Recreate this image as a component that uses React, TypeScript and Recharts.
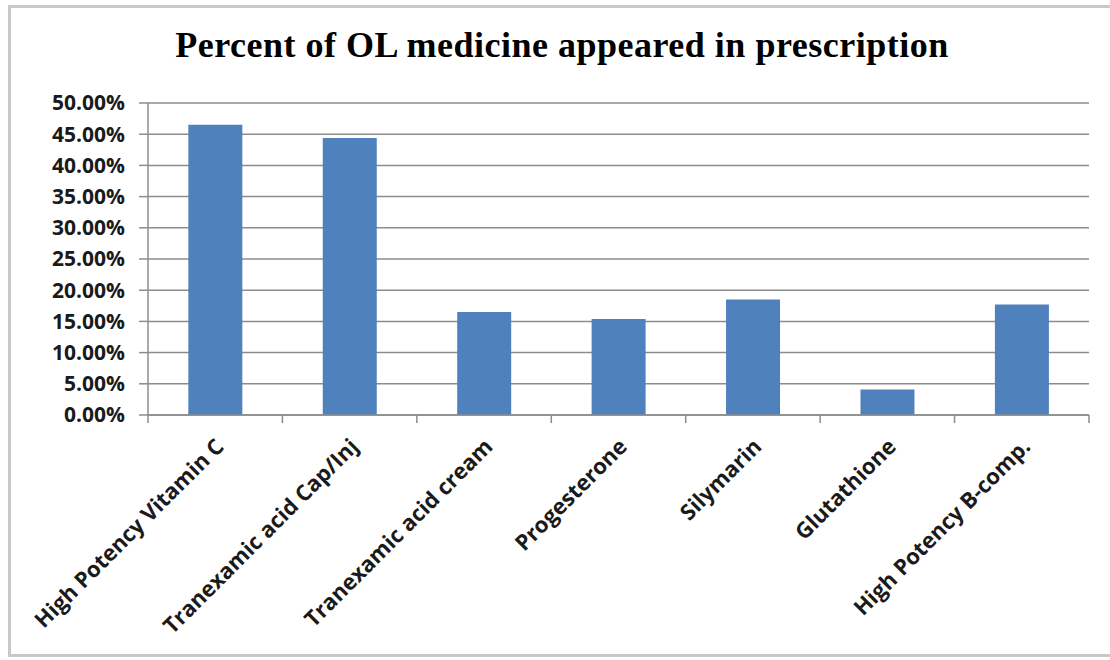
import { Bar, BarChart, CartesianGrid, XAxis, YAxis } from "recharts"

const categories = [
  "High Potency Vitamin C",
  "Tranexamic acid Cap/Inj",
  "Tranexamic acid cream",
  "Progesterone",
  "Silymarin",
  "Glutathione",
  "High Potency B-comp.",
]
const percents = [46.5, 44.4, 16.5, 15.4, 18.5, 4.1, 17.7]
const yTicks = [0, 5, 10, 15, 20, 25, 30, 35, 40, 45, 50]

const chartData = categories.map((name, i) => ({ name, value: percents[i] }))

const LABEL_FONT = "'Open Sans', sans-serif"
const CHART_W = 1110
const Y_AXIS_W = 148
const RIGHT_M = 21
const X_AXIS_H = 245
const AXIS_Y = 660 - X_AXIS_H
const BAND = (CHART_W - Y_AXIS_W - RIGHT_M) / categories.length

// excel puts the x tick marks between categories, not under them
const CategoryTick = ({ x, y, payload, index }: any) => {
  const tx = x + 10
  const ty = y + 25
  const left = x - BAND / 2
  const right = x + BAND / 2
  return (
    <g>
      <line x1={left} x2={left} y1={AXIS_Y} y2={AXIS_Y + 8} stroke="#8c8c8c" strokeWidth={1.5} />
      {index === categories.length - 1 && (
        <line x1={right} x2={right} y1={AXIS_Y} y2={AXIS_Y + 8} stroke="#8c8c8c" strokeWidth={1.5} />
      )}
      <text
        x={tx}
        y={ty}
        textAnchor="end"
        fontFamily={LABEL_FONT}
        fontWeight={700}
        fontSize={22}
        fill="#1a1a1a"
        transform={`rotate(-45 ${tx} ${ty})`}
      >
        {payload.value}
      </text>
    </g>
  )
}

export default function App() {
  return (
    <div style={{ position: "absolute", left: 0, top: 0, width: 1110, height: 660, background: "#fff" }}>
      <div
        style={{
          position: "absolute",
          left: 8,
          top: 5,
          width: 1110,
          height: 652,
          borderLeft: "3px solid #c8c8c8",
          borderTop: "3px solid #c8c8c8",
          borderBottom: "3px solid #c8c8c8",
          boxSizing: "border-box",
        }}
      />
      <div
        style={{
          position: "absolute",
          left: 0,
          top: 24,
          width: 1124,
          textAlign: "center",
          fontFamily: "'Liberation Serif', 'Times New Roman', serif",
          fontWeight: 700,
          fontSize: 36,
          letterSpacing: 0.5,
          color: "#000",
        }}
      >
        Percent of OL medicine appeared in prescription
      </div>
      <div style={{ position: "absolute", left: 0, top: 0 }}>
        <BarChart
          width={CHART_W}
          height={660}
          data={chartData}
          margin={{ top: 103, right: RIGHT_M, bottom: 0, left: 0 }}
          barCategoryGap="30%"
        >
          <CartesianGrid vertical={false} stroke="#8c8c8c" strokeWidth={1.5} />
          <XAxis
            dataKey="name"
            interval={0}
            tick={<CategoryTick />}
            tickLine={false}
            axisLine={{ stroke: "#8c8c8c", strokeWidth: 1.5 }}
            height={X_AXIS_H}
          />
          <YAxis
            width={Y_AXIS_W}
            domain={[0, 50]}
            ticks={yTicks}
            interval={0}
            tickFormatter={(v: number) => `${v.toFixed(2)}%`}
            tick={{ fontFamily: LABEL_FONT, fontWeight: 700, fontSize: 21, fill: "#1a1a1a" }}
            tickSize={9}
            tickMargin={14}
            tickLine={{ stroke: "#8c8c8c", strokeWidth: 1.5 }}
            axisLine={{ stroke: "#8c8c8c", strokeWidth: 1.5 }}
          />
          <Bar dataKey="value" fill="#4f81bd" isAnimationActive={false} />
        </BarChart>
      </div>
    </div>
  )
}
